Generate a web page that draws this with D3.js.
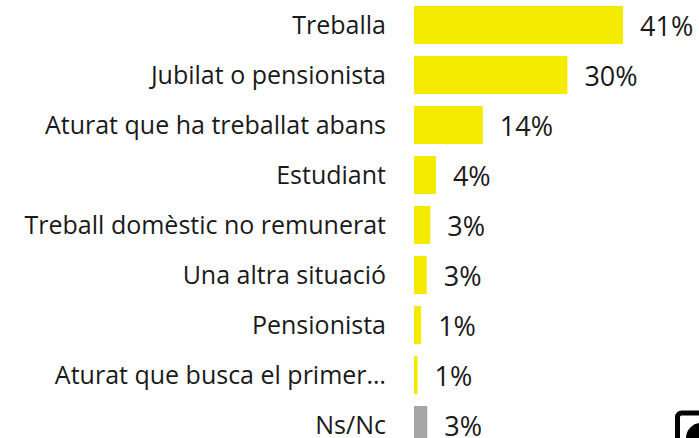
<!DOCTYPE html>
<html>
<head>
<meta charset="utf-8">
<script src="https://cdn.jsdelivr.net/npm/d3@7"></script>
<style>
  body { margin: 0; background: #fff; }
  svg { display: block; font-family: "Open Sans", sans-serif; }
</style>
</head>
<body>
<svg id="chart"></svg>
<script>
const categories = [
  "Treballa",
  "Jubilat o pensionista",
  "Aturat que ha treballat abans",
  "Estudiant",
  "Treball domèstic no remunerat",
  "Una altra situació",
  "Pensionista",
  "Aturat que busca el primer…",
  "Ns/Nc"
];
const values = [41, 30.1, 13.5, 4.3, 3.2, 2.5, 1.4, 0.7, 2.6];
const valueLabels = ["41%", "30%", "14%", "4%", "3%", "3%", "1%", "1%", "3%"];

const size = { width: 699, height: 438 };

const svg = d3
  .select("#chart")
  .attr("width", size.width)
  .attr("height", size.height);

const y = d3
  .scaleBand()
  .domain(categories)
  .range([0, 450])
  .paddingInner(0.24)
  .paddingOuter(0.12);

const x = d3.scaleLinear().domain([0, 41]).range([414, 623]);

const rows = svg
  .selectAll("g.row")
  .data(categories)
  .enter()
  .append("g")
  .attr("class", "row");

rows
  .append("rect")
  .attr("x", x(0))
  .attr("y", (d) => y(d))
  .attr("width", (d, i) => x(values[i]) - x(0))
  .attr("height", y.bandwidth())
  .attr("fill", (d) => (d === "Ns/Nc" ? "#a6a6a6" : "#f5eb00"));

rows
  .append("text")
  .attr("x", 386)
  .attr("y", (d) => y(d) + y.bandwidth() / 2 + 9)
  .attr("text-anchor", "end")
  .style("font-size", "25px")
  .attr("fill", "#1a1a1a")
  .text((d) => d);

rows
  .append("text")
  .attr("x", (d, i) => x(values[i]) + 17)
  .attr("y", (d) => y(d) + y.bandwidth() / 2 + 11)
  .style("font-size", "27px")
  .attr("fill", "#1a1a1a")
  .text((d, i) => valueLabels[i]);

// logo cut off at the corner
const logo = svg.append("g");
logo
  .append("rect")
  .attr("x", 677.5)
  .attr("y", 413)
  .attr("width", 40)
  .attr("height", 40)
  .attr("rx", 4)
  .attr("fill", "none")
  .attr("stroke", "#000")
  .attr("stroke-width", 5);
logo
  .append("circle")
  .attr("cx", 701)
  .attr("cy", 438)
  .attr("r", 15)
  .attr("fill", "#000");
</script>
</body>
</html>
